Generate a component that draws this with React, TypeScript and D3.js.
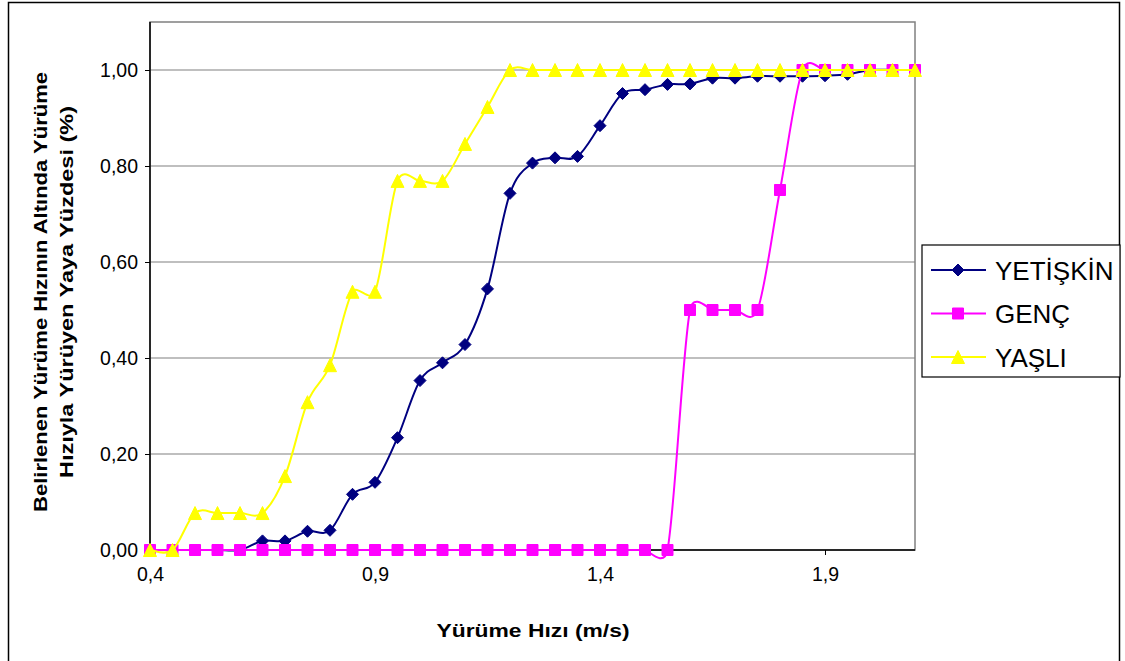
import * as d3 from "d3";
import { useEffect, useRef } from "react";

// walking speed (m/s)
const speeds = [
  0.4, 0.45, 0.5, 0.55, 0.6, 0.65, 0.7, 0.75, 0.8, 0.85, 0.9, 0.95, 1.0, 1.05, 1.1, 1.15, 1.2, 1.25,
  1.3, 1.35, 1.4, 1.45, 1.5, 1.55, 1.6, 1.65, 1.7, 1.75, 1.8, 1.85, 1.9, 1.95, 2.0, 2.05, 2.1,
];

const yetiskin = [
  0, 0, 0, 0, 0, 0.019, 0.019, 0.039, 0.041, 0.116, 0.141, 0.234, 0.353, 0.39, 0.428, 0.544, 0.743, 0.806,
  0.817, 0.82, 0.884, 0.951, 0.959, 0.97, 0.971, 0.983, 0.983, 0.987, 0.987, 0.987, 0.988, 0.991, 1, 1, 1,
];

const genc = [
  0, 0, 0, 0, 0, 0, 0, 0, 0, 0, 0, 0, 0, 0, 0, 0, 0, 0,
  0, 0, 0, 0, 0, 0, 0.5, 0.5, 0.5, 0.5, 0.75, 1, 1, 1, 1, 1, 1,
];

const yasli = [
  0, 0, 0.077, 0.077, 0.077, 0.077, 0.154, 0.308, 0.385, 0.538, 0.538, 0.769, 0.769, 0.769, 0.846, 0.923, 1, 1,
  1, 1, 1, 1, 1, 1, 1, 1, 1, 1, 1, 1, 1, 1, 1, 1, 1,
];

const seriesNames = ["YETİŞKİN", "GENÇ", "YAŞLI"];
const seriesColors = ["#000080", "#FF00FF", "#FFFF00"];
const seriesMarkers = ["diamond", "square", "triangle"];

const xTicks = [0.4, 0.9, 1.4, 1.9];
const yTicks = [0, 0.2, 0.4, 0.6, 0.8, 1.0];

const xTitle = "Yürüme Hızı (m/s)";
const yTitle = ["Belirlenen Yürüme Hızının Altında Yürüme", "Hızıyla Yürüyen Yaya Yüzdesi (%)"];

const FONT = "'Liberation Sans', Arial, sans-serif";

const markerPath = (type, cx, cy) => {
  if (type === "diamond") {
    const r = 6;
    return `M${cx},${cy - r}L${cx + r},${cy}L${cx},${cy + r}L${cx - r},${cy}Z`;
  }
  if (type === "square") {
    const r = 5.5;
    return `M${cx - r},${cy - r}H${cx + r}V${cy + r}H${cx - r}Z`;
  }
  const h = 6.5;
  return `M${cx},${cy - h}L${cx + h},${cy + h}L${cx - h},${cy + h}Z`;
};

// spreadsheet-style smoothed line: bezier with 1/6 tangents, arms clamped to the segment length
const smoothPath = (pts) => {
  const p = d3.path();
  const n = pts.length;
  p.moveTo(pts[0][0], pts[0][1]);
  for (let i = 0; i < n - 1; i++) {
    const p0 = pts[Math.max(i - 1, 0)];
    const p1 = pts[i];
    const p2 = pts[i + 1];
    const p3 = pts[Math.min(i + 2, n - 1)];
    let v1 = [(p2[0] - p0[0]) / 6, (p2[1] - p0[1]) / 6];
    let v2 = [(p3[0] - p1[0]) / 6, (p3[1] - p1[1]) / 6];
    const seg = Math.hypot(p2[0] - p1[0], p2[1] - p1[1]);
    const arms = Math.hypot(v1[0], v1[1]) + Math.hypot(v2[0], v2[1]);
    if (arms > seg && arms > 0) {
      const k = seg / arms;
      v1 = [v1[0] * k, v1[1] * k];
      v2 = [v2[0] * k, v2[1] * k];
    }
    p.bezierCurveTo(p1[0] + v1[0], p1[1] + v1[1], p2[0] - v2[0], p2[1] - v2[1], p2[0], p2[1]);
  }
  return p.toString();
};

const App = () => {
  const ref = useRef(null);

  useEffect(() => {
    const svg = d3.select(ref.current);
    svg.selectChildren().remove();

    const margin = { top: 22, left: 150, right: 915, bottom: 550 };

    const x = d3.scaleLinear().domain([0.4, 2.1]).range([margin.left, margin.right]);
    const y = d3.scaleLinear().domain([0, 1.1]).range([margin.bottom, margin.top]);
    const comma = (f) => (v) => d3.format(f)(v).replace(".", ",");

    // outer chart frame
    svg.append("rect")
      .attr("x", 8.5).attr("y", 2.5)
      .attr("width", 1111).attr("height", 700)
      .attr("fill", "#fff")
      .attr("stroke", "#000")
      .attr("stroke-width", 1.5);

    // plot area border
    svg.append("rect")
      .attr("x", margin.left).attr("y", margin.top)
      .attr("width", margin.right - margin.left)
      .attr("height", margin.bottom - margin.top)
      .attr("fill", "none")
      .attr("stroke", "#808080")
      .attr("stroke-width", 1.5);

    // gridlines
    svg.append("g")
      .selectAll("line")
      .data(yTicks.filter(d => d > 0))
      .join("line")
      .attr("x1", margin.left).attr("x2", margin.right)
      .attr("y1", d => y(d)).attr("y2", d => y(d))
      .attr("stroke", "#808080")
      .attr("stroke-width", 1.2);

    // Y axis
    const yAxis = svg.append("g")
      .attr("transform", `translate(${margin.left},0)`)
      .call(d3.axisLeft(y).tickValues(yTicks).tickSize(5).tickPadding(7).tickFormat(comma(".2f")))
      .call(g => g.select(".domain").attr("d", `M0,${margin.top}V${margin.bottom}`).attr("stroke", "#000").attr("stroke-width", 1.5));
    yAxis.selectAll("text")
      .attr("font-family", FONT)
      .attr("font-size", 19.5)
      .attr("fill", "#000");

    // X axis
    const xAxis = svg.append("g")
      .attr("transform", `translate(0,${margin.bottom})`)
      .call(d3.axisBottom(x).tickValues(xTicks).tickSize(5).tickPadding(12).tickFormat(comma(".1f")))
      .call(g => g.select(".domain").attr("d", `M${margin.left},0H${margin.right}`).attr("stroke", "#000").attr("stroke-width", 1.5));
    xAxis.selectAll("text")
      .attr("font-family", FONT)
      .attr("font-size", 19.5)
      .attr("fill", "#000");

    // axis titles
    svg.append("text")
      .attr("x", 533).attr("y", 637)
      .attr("text-anchor", "middle")
      .attr("font-family", FONT)
      .attr("font-weight", "bold")
      .attr("font-size", 18)
      .attr("textLength", 193)
      .attr("lengthAdjust", "spacingAndGlyphs")
      .text(xTitle);

    const yt = svg.append("g").attr("transform", "translate(0,292) rotate(-90)");
    yt.append("text")
      .attr("x", 0).attr("y", 47)
      .attr("text-anchor", "middle")
      .attr("font-family", FONT)
      .attr("font-weight", "bold")
      .attr("font-size", 18)
      .attr("textLength", 440)
      .attr("lengthAdjust", "spacingAndGlyphs")
      .text(yTitle[0]);
    yt.append("text")
      .attr("x", 0).attr("y", 73)
      .attr("text-anchor", "middle")
      .attr("font-family", FONT)
      .attr("font-weight", "bold")
      .attr("font-size", 18)
      .attr("textLength", 372)
      .attr("lengthAdjust", "spacingAndGlyphs")
      .text(yTitle[1]);

    // series
    const allSeries = [yetiskin, genc, yasli];

    allSeries.forEach((values, s) => {
      const g = svg.append("g");
      const pts = values.map((d, i) => [x(speeds[i]), y(d)]);
      g.append("path")
        .attr("fill", "none")
        .attr("stroke", seriesColors[s])
        .attr("stroke-width", 2)
        .attr("d", smoothPath(pts));
      g.selectAll("path.marker")
        .data(values)
        .join("path")
        .attr("class", "marker")
        .attr("d", (d, i) => markerPath(seriesMarkers[s], x(speeds[i]), y(d)))
        .attr("fill", seriesColors[s])
        .attr("stroke", seriesColors[s])
        .attr("stroke-width", 1);
    });

    // legend
    const legend = svg.append("g");
    legend.append("rect")
      .attr("x", 922).attr("y", 245)
      .attr("width", 198).attr("height", 132)
      .attr("fill", "#fff")
      .attr("stroke", "#000")
      .attr("stroke-width", 1.2);
    seriesNames.forEach((name, s) => {
      const cy = 270 + s * 43.5;
      legend.append("line")
        .attr("x1", 931).attr("x2", 986)
        .attr("y1", cy).attr("y2", cy)
        .attr("stroke", seriesColors[s])
        .attr("stroke-width", 2);
      legend.append("path")
        .attr("d", markerPath(seriesMarkers[s], 958, cy))
        .attr("fill", seriesColors[s])
        .attr("stroke", seriesColors[s]);
      legend.append("text")
        .attr("x", 995).attr("y", cy + 9.5)
        .attr("font-family", FONT)
        .attr("font-size", 26)
        .attr("fill", "#000")
        .text(name);
    });
  });

  return (
    <svg
      ref={ref}
      width={1125}
      height={661}
      style={{ position: "absolute", left: 0, top: 0, background: "#fff" }}
    />
  );
};

export default App;
